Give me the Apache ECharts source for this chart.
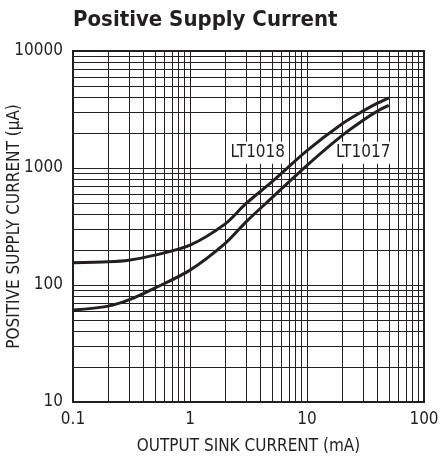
<html>
<head>
    <meta charset="utf-8">
    <title>Positive Supply Current</title>
    <script src="https://cdn.jsdelivr.net/npm/echarts@6/dist/echarts.min.js"></script>
</head>
<body style="margin:0;background:#fff;">
<div id="main" style="width:442px;height:458px;"></div>
<script type="text/javascript">
    // output sink current (mA)
    var sinkCurrent = [0.1, 0.2, 0.3, 0.5, 1, 2, 3, 5, 10, 20, 30, 40, 50];
    // positive supply current (uA)
    var lt1018 = [155, 158, 163, 180, 219, 333, 495, 760, 1410, 2390, 3060, 3580, 3980];
    var lt1017 = [61, 66, 74.5, 94, 134, 227, 345, 555, 1054, 1900, 2550, 3060, 3425];
    // where the curve names sit [x, y]
    var lt1018Label = [3.8, 1348];
    var lt1017Label = [30.2, 1348];
    var xDecades = [0.1, 1, 10];
    var yDecades = [10, 100, 1000];

    var ink = '#231f20';
    var font = "'Liberation Sans Narrow', 'DejaVu Sans Condensed', sans-serif";

    function pairs(xs, ys) {
        return xs.map(function (x, i) { return [x, ys[i]]; });
    }

    // minor log grid lines (2..9 in each decade)
    var minorLines = [];
    xDecades.forEach(function (d) {
        for (var k = 2; k <= 9; k++) minorLines.push({ xAxis: +(d * k).toPrecision(6) });
    });
    yDecades.forEach(function (d) {
        for (var k = 2; k <= 9; k++) minorLines.push({ yAxis: +(d * k).toPrecision(6) });
    });

    function fmt(v) { return String(+(+v).toPrecision(6)); }

    var myChart = echarts.init(document.getElementById('main'));
    myChart.setOption({
        animation: false,
        textStyle: { fontFamily: font, color: ink },
        title: {
            text: 'Positive Supply Current',
            left: 73,
            top: 9,
            padding: 0,
            textStyle: { fontFamily: font, fontSize: 22, fontWeight: 'bold', color: ink }
        },
        grid: {
            left: 73, right: 18, top: 51, bottom: 56,
            outerBoundsMode: 'none',
            containLabel: false,
            show: true, borderColor: ink, borderWidth: 2, backgroundColor: 'transparent'
        },
        xAxis: {
            type: 'log', logBase: 10, min: 0.1, max: 100,
            name: 'OUTPUT SINK CURRENT (mA)',
            nameLocation: 'middle', nameGap: 36,
            nameMoveOverlap: false,
            nameTextStyle: { fontFamily: font, fontSize: 17, color: ink },
            axisLine: { lineStyle: { color: ink, width: 2 } },
            axisTick: { show: false },
            axisLabel: { fontFamily: font, fontSize: 17, color: ink, margin: 9, formatter: fmt },
            splitLine: { show: true, lineStyle: { color: ink, width: 1 } }
        },
        yAxis: {
            type: 'log', logBase: 10, min: 10, max: 10000,
            name: 'POSITIVE SUPPLY CURRENT (\u00b5A)',
            nameLocation: 'middle', nameGap: 50,
            nameMoveOverlap: false,
            nameTextStyle: { fontFamily: font, fontSize: 17, color: ink },
            axisLine: { lineStyle: { color: ink, width: 2 } },
            axisTick: { show: false },
            axisLabel: { fontFamily: font, fontSize: 17, color: ink, margin: 10, formatter: fmt },
            splitLine: { show: true, lineStyle: { color: ink, width: 1 } }
        },
        series: [{
            name: 'LT1018',
            type: 'line',
            z: 10,
            smooth: 0.3,
            showSymbol: false,
            lineStyle: { color: ink, width: 3 },
            data: pairs(sinkCurrent, lt1018),
            markLine: {
                z: 1,
                silent: true,
                animation: false,
                symbol: ['none', 'none'],
                label: { show: false },
                emphasis: { disabled: true },
                lineStyle: { type: 'solid', color: ink, width: 1 },
                data: minorLines
            },
            markPoint: {
                z: 6,
                silent: true,
                symbol: 'rect',
                symbolSize: 0,
                label: {
                    show: true, position: 'inside', formatter: '{b}',
                    fontFamily: font, fontSize: 17, color: ink,
                    backgroundColor: '#fff', padding: [3, 2, 2, 2]
                },
                data: [
                    { name: 'LT1018', coord: lt1018Label },
                    { name: 'LT1017', coord: lt1017Label }
                ]
            }
        }, {
            name: 'LT1017',
            type: 'line',
            z: 10,
            smooth: 0.3,
            showSymbol: false,
            lineStyle: { color: ink, width: 3 },
            data: pairs(sinkCurrent, lt1017)
        }]
    });
</script>
</body>
</html>
